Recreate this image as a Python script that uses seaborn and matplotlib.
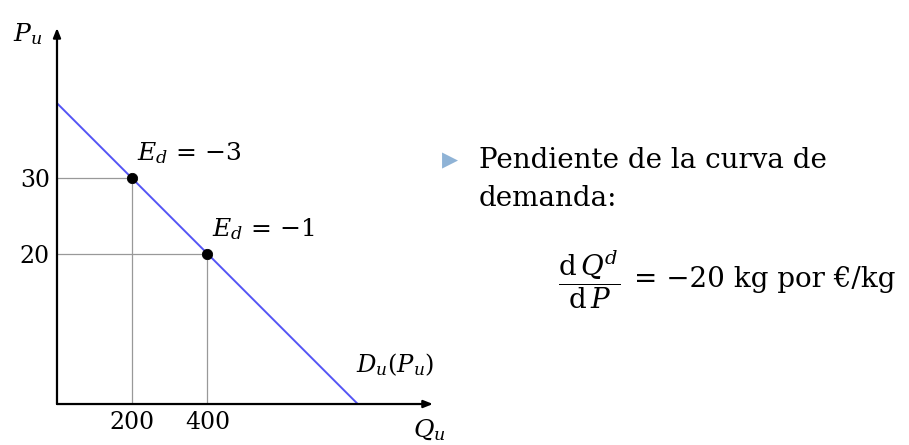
import seaborn as sns
import matplotlib
matplotlib.use("Agg")
import matplotlib.pyplot as plt
import pandas as pd

# demand curve Q = 800 - 20 P
q_line = [0, 800]
p_line = [40, 0]

# marked points and their elasticities
q_points = [200, 400]
p_points = [30, 20]
point_labels = ["$E_d$ = \u22123", "$E_d$ = \u22121"]

x_ticks = [200, 400]
y_ticks = [30, 20]

sns.set_style("white")
plt.rcParams["font.family"] = ["DejaVu Serif"]
plt.rcParams["mathtext.fontset"] = "dejavuserif"
plt.rcParams["text.color"] = "black"
plt.rcParams["xtick.color"] = "black"
plt.rcParams["ytick.color"] = "black"

line_df = pd.DataFrame({"Q": q_line, "P": p_line})
pts_df = pd.DataFrame({"Q": q_points, "P": p_points})

fig = plt.figure(figsize=(9.09, 4.45), dpi=100)
ax = fig.add_axes([0.0627, 0.0921, 0.4136, 0.8450])
ax.set_xlim(0, 1000)
ax.set_ylim(0, 50)

# guide lines to the axes
for q, p in zip(q_points, p_points):
    ax.plot([q, q], [0, p], color="#999999", lw=0.9, zorder=1)
    ax.plot([0, q], [p, p], color="#999999", lw=0.9, zorder=1)

sns.lineplot(data=line_df, x="Q", y="P", ax=ax, color="#5555f5", lw=1.4, zorder=2)
sns.scatterplot(data=pts_df, x="Q", y="P", ax=ax, color="black", s=55, zorder=3,
                edgecolor="black")

for q, p, lab in zip(q_points, p_points, point_labels):
    ax.text(q + 12, p + 1.6, lab, fontsize=18, ha="left", va="bottom")

ax.text(795, 5.2, r"$D_u(P_u)$", fontsize=17.5, ha="left", va="center")

# axes as arrows
for s in ax.spines.values():
    s.set_visible(False)
arrow = dict(arrowstyle="-|>,head_length=0.55,head_width=0.22", color="black", lw=1.6,
             shrinkA=0, shrinkB=0)
ax.annotate("", xy=(1000, 0), xytext=(0, 0), arrowprops=arrow, annotation_clip=False)
ax.annotate("", xy=(0, 50), xytext=(0, 0), arrowprops=arrow, annotation_clip=False)

ax.text(990, -1.7, r"$Q_u$", fontsize=18, ha="center", va="top")
ax.text(-40, 49.2, r"$P_u$", fontsize=18, ha="right", va="center")

ax.set_xticks(x_ticks)
ax.set_yticks(y_ticks)
ax.set_xticklabels([str(v) for v in x_ticks])
ax.set_yticklabels([str(v) for v in y_ticks])
ax.tick_params(length=0, labelsize=17, pad=5)
ax.set_xlabel("")
ax.set_ylabel("")

# right-hand text
fig.text(0.486, 0.640, "\u25B6", color="#8fb3d6", fontsize=15, va="center", ha="left",
         family=["DejaVu Sans"])
fig.text(0.527, 0.640, "Pendiente de la curva de", fontsize=20, va="center", ha="left")
fig.text(0.527, 0.555, "demanda:", fontsize=20, va="center", ha="left")
fig.text(0.614, 0.372, r"$\dfrac{\mathrm{d}\,Q^d}{\mathrm{d}\,P}$", fontsize=20,
         va="center", ha="left")
fig.text(0.697, 0.372, "= \u221220 kg por \u20ac/kg", fontsize=20, va="center", ha="left")

fig.savefig("out.png", dpi=100)
